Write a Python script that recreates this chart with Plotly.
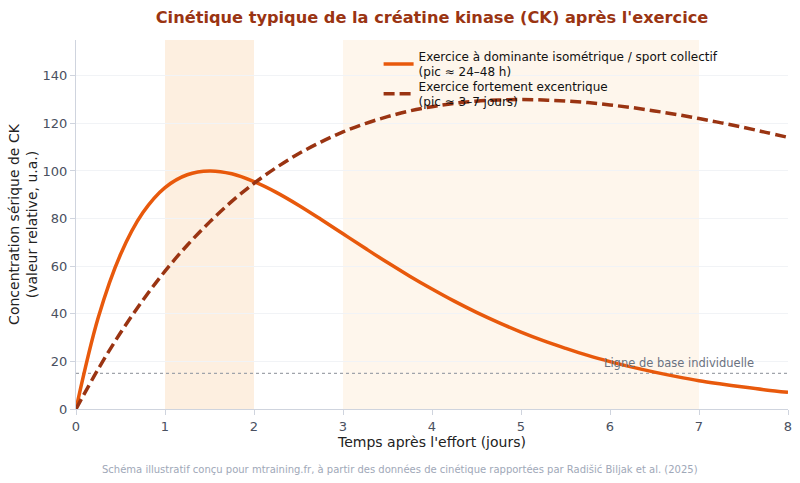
import plotly.graph_objects as go

jours = [0, 0.25, 0.5, 0.75, 1, 1.25, 1.5, 1.75, 2, 2.25, 2.5, 2.75, 3, 3.25, 3.5, 3.75,
         4, 4.25, 4.5, 4.75, 5, 5.25, 5.5, 5.75, 6, 6.25, 6.5, 6.75, 7, 7.25, 7.5, 7.75, 8]

ck_isometrique = [0, 38.4, 64.9, 82.4, 93.0, 98.4, 100, 98.8, 95.5, 91.0, 85.6, 79.7, 73.6,
                  67.5, 61.5, 55.8, 50.4, 45.3, 40.6, 36.3, 32.3, 28.7, 25.5, 22.5, 19.9,
                  17.6, 15.5, 13.6, 11.9, 10.5, 9.2, 8.0, 7.0]

ck_excentrique = [0, 16.8, 32.0, 45.6, 57.9, 68.8, 78.5, 87.2, 94.8, 101.4, 107.2, 112.1, 116.4,
                  119.9, 122.8, 125.2, 127.0, 128.4, 129.3, 129.8, 130, 129.8, 129.4, 128.7, 127.7,
                  126.6, 125.2, 123.7, 122.0, 120.2, 118.3, 116.2, 114.1]

ligne_base = 15
zone_pic_1 = [1, 2]
zone_pic_2 = [3, 7]

FONT = "DejaVu Sans"
ORANGE = "#e8590c"
BRUN = "#9a3412"

fig = go.Figure()

# zones de pic
fig.add_vrect(x0=zone_pic_1[0], x1=zone_pic_1[1], fillcolor="#fdefe0", line_width=0, layer="below")
fig.add_vrect(x0=zone_pic_2[0], x1=zone_pic_2[1], fillcolor="#fef6ec", line_width=0, layer="below")

# ligne de base
fig.add_trace(go.Scatter(
    x=[jours[0], jours[-1]], y=[ligne_base, ligne_base], mode="lines",
    line=dict(color="#a0a4ab", width=1.2, dash="dot"), showlegend=False, hoverinfo="skip"))

fig.add_trace(go.Scatter(
    x=jours, y=ck_isometrique, mode="lines", line_shape="spline", legend="legend",
    name="Exercice à dominante isométrique / sport collectif<br>(pic ≈ 24–48 h)",
    line=dict(color=ORANGE, width=3.5)))

fig.add_trace(go.Scatter(
    x=jours, y=ck_excentrique, mode="lines", line_shape="spline", legend="legend2",
    name="Exercice fortement excentrique<br>(pic ≈ 3–7 jours)",
    line=dict(color=BRUN, width=3.5, dash="11px,5px")))

fig.add_annotation(x=6.78, y=19.3, yanchor="middle", showarrow=False,
                   text="Ligne de base individuelle",
                   font=dict(family=FONT, size=11.5, color="#6b7280"))

fig.add_annotation(x=0.455, y=-0.163, xref="paper", yref="paper", yanchor="middle", showarrow=False,
                   text="Schéma illustratif conçu pour mtraining.fr, à partir des données de cinétique rapportées par Radišić Biljak et al. (2025)",
                   font=dict(family=FONT, size=10, color="#a0a8b8"))

leg = dict(xanchor="left", yanchor="top", bgcolor="rgba(0,0,0,0)",
           font=dict(family=FONT, size=12, color="#111111"))

fig.update_layout(
    width=800, height=483,
    margin=dict(l=76, r=12, t=40, b=74),
    plot_bgcolor="white", paper_bgcolor="white",
    font=dict(family=FONT, size=13, color="#4a5060"),
    title=dict(text="<b>Cinétique typique de la créatine kinase (CK) après l'exercice</b>",
               x=0.54, xanchor="center", y=0.975,
               font=dict(family=FONT, size=16.2, color=BRUN)),
    legend=dict(x=0.425, y=0.995, **leg),
    legend2=dict(x=0.425, y=0.914, **leg),
    showlegend=True,
)

fig.update_xaxes(range=[0, 8], dtick=1, showline=True, linecolor="#cfd4de", linewidth=1,
                 ticks="outside", tickcolor="#cfd4de", ticklen=5, showgrid=False, zeroline=False,
                 automargin=False,
                 title=dict(text="Temps après l'effort (jours)", standoff=3,
                            font=dict(family=FONT, size=14, color="#222222")))
fig.update_yaxes(range=[0, 155], dtick=20, showline=True, linecolor="#cfd4de", linewidth=1,
                 ticks="outside", tickcolor="#cfd4de", ticklen=5,
                 showgrid=True, gridcolor="#f1f3f6", zeroline=False, automargin=False,
                 title=dict(text="Concentration sérique de CK<br>(valeur relative, u.a.)", standoff=1,
                            font=dict(family=FONT, size=14, color="#222222")))

# pas de marge de page autour du graphique
fig.write_html("out.html", config={"displayModeBar": False},
               post_script="document.body.style.margin='0';")
